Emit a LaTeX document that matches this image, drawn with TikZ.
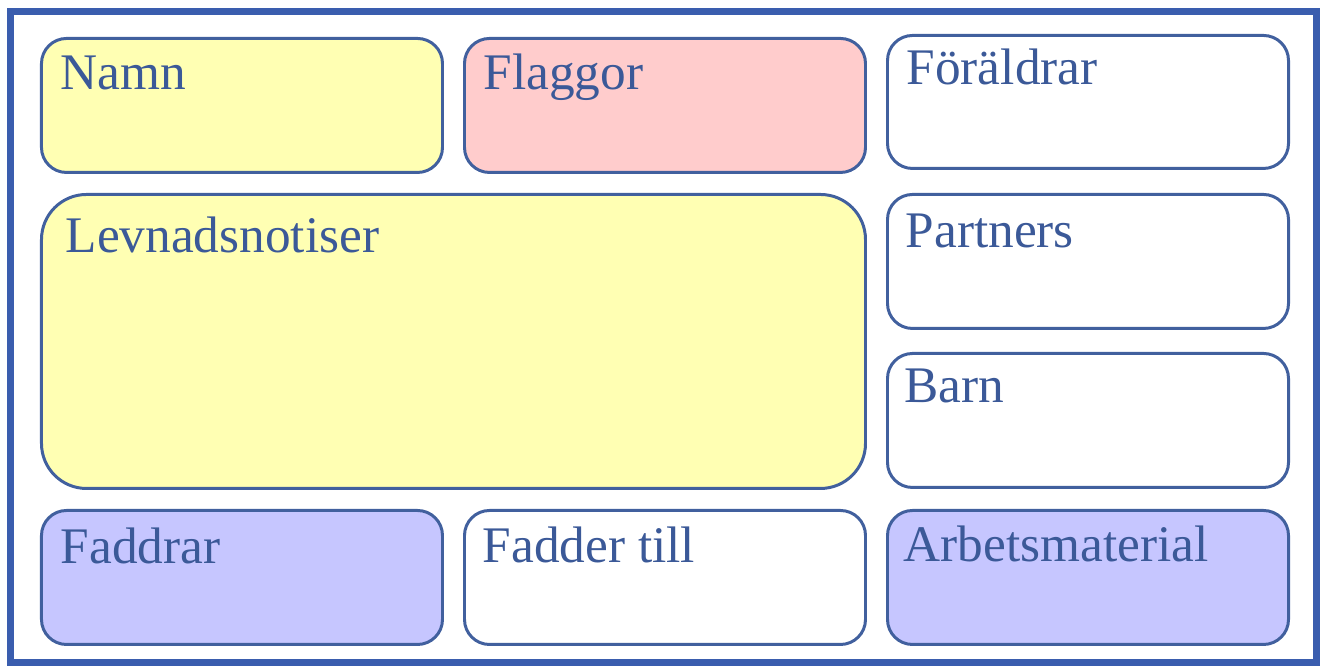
\documentclass[tikz,border=0pt]{standalone}
\usepackage{fontspec}
\setmainfont{Liberation Serif}
\definecolor{FrameBlue}{HTML}{3A5DAE}
\definecolor{BoxLine}{HTML}{41609E}
\definecolor{TxtBlue}{HTML}{3B5998}
\definecolor{NoteYellow}{HTML}{FFFFB3}
\definecolor{FlagPink}{HTML}{FFCCCC}
\definecolor{GodLilac}{HTML}{C6C6FF}
\usetikzlibrary{positioning,calc}

\begin{document}
\begin{tikzpicture}[
      b/.style={rectangle, rounded corners=0.25cm, draw=BoxLine, line width=0.85pt,
        fill=white, anchor=north west, minimum width=4.01cm, minimum height=1.34cm, inner sep=0pt},
      t/.style={anchor=base west, inner sep=0pt, text=TxtBlue,
        font=\fontsize{14.6}{17}\selectfont}]
      \useasboundingbox (0,0) rectangle (13.22,6.68);
      \draw[FrameBlue, line width=2pt] (0.105,0.05) rectangle (13.165,6.56);
      % top row
      \node[b, fill=NoteYellow] (namn) at (0.40,6.31) {};
      \node[b, fill=FlagPink] (flaggor) at (4.63,6.31) {};
      \node[b, minimum height=1.33cm] (foraldrar) at (8.86,6.34) {};
      % middle
      \node[b, fill=NoteYellow, rounded corners=0.45cm, minimum width=8.24cm,
        minimum height=2.94cm] (levnad) at (0.40,4.75) {};
      \node[b] (partners) at (8.86,4.75) {};
      \node[b] (barn) at (8.86,3.16) {};
      % bottom row
      \node[b, fill=GodLilac] (faddrar) at (0.40,1.59) {};
      \node[b] (fadder) at (4.63,1.59) {};
      \node[b, fill=GodLilac] (arbete) at (8.86,1.59) {};
      % labels
      \node[t] (namn-t) at ($(namn.north west)+(0.20,-0.53)$) {Namn};
      \node[t] (flaggor-t) at ($(flaggor.north west)+(0.20,-0.53)$) {Flaggor};
      \node[t] (foraldrar-t) at ($(foraldrar.north west)+(0.20,-0.51)$) {Föräldrar};
      \node[t] (levnad-t) at ($(levnad.north west)+(0.25,-0.60)$) {Levnadsnotiser};
      \node[t] (partners-t) at ($(partners.north west)+(0.19,-0.55)$) {Partners};
      \node[t] (barn-t) at ($(barn.north west)+(0.18,-0.51)$) {Barn};
      \node[t] (faddrar-t) at ($(faddrar.north west)+(0.20,-0.55)$) {Faddrar};
      \node[t] (fadder-t) at ($(fadder.north west)+(0.19,-0.54)$) {Fadder till};
      \node[t] (arbete-t) at ($(arbete.north west)+(0.17,-0.53)$) {Arbetsmaterial};
    \end{tikzpicture}
\end{document}
